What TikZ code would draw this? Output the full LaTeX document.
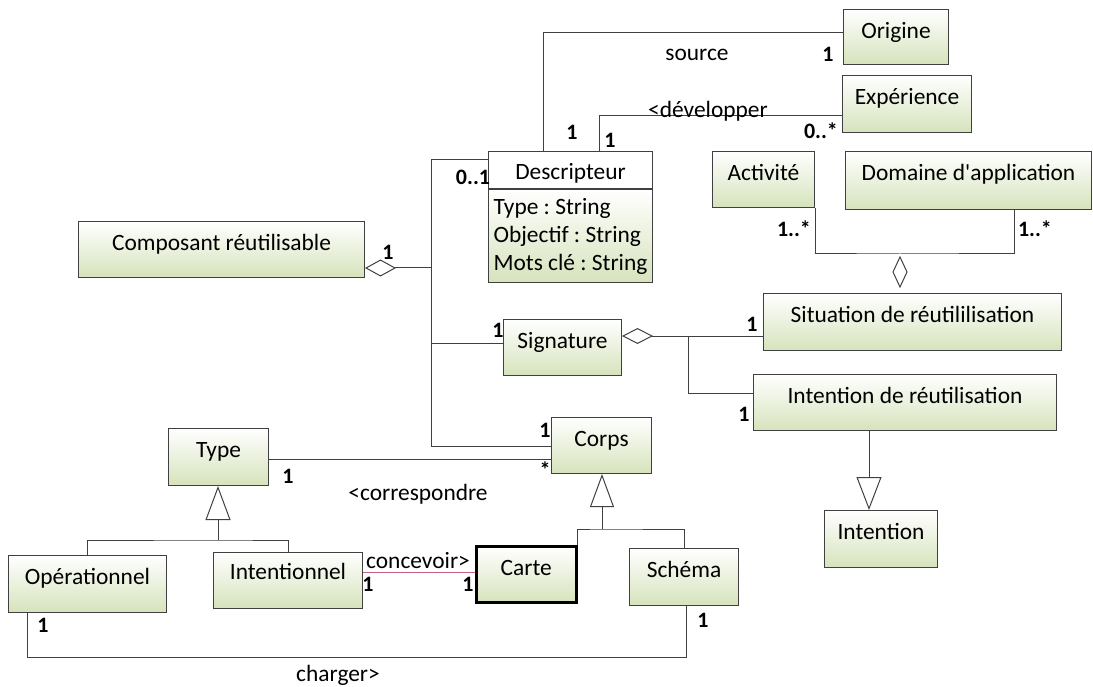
\documentclass[tikz,border=0pt]{standalone}
\usepackage{fontspec}
\setmainfont{Carlito}
\usetikzlibrary{arrows.meta}
\definecolor{bordc}{RGB}{64,64,64}
\definecolor{clsg}{RGB}{214,227,188}
\definecolor{pinkl}{RGB}{200,95,130}
\newcommand{\fs}{\fontsize{23.4}{28}\selectfont\frenchspacing}
\newcommand{\fm}{\fontsize{22}{24}\selectfont\bfseries}
\begin{document}
\begin{tikzpicture}[x=1pt,y=-1pt,
 cls/.style={draw=bordc, line width=1pt, top color=white, bottom color=clsg, inner xsep=0pt, inner ysep=0pt, text height=29pt, anchor=north west, font=\fs},
 line/.style={draw=bordc, line width=1pt},
 mult/.style={font=\fm, inner sep=0pt, text=black},
 lab/.style={font=\fs, inner sep=0pt, text=black},
 agg/.style={arrows={Diamond[open,length=31pt,width=17pt]-}},
 gen/.style={arrows={-Triangle[open,length=33pt,width=25pt]}},
]
\useasboundingbox (0,0) rectangle (1093,687);

% classes
\node[cls, minimum width=105pt, text depth=26pt] (orig) at (843,9) {Origine};
\node[cls, minimum width=129pt, text depth=28pt] (exp) at (842,75) {Expérience};
\node[cls, minimum width=102pt, text depth=27pt] (act) at (712,151) {Activité};
\node[cls, minimum width=246pt, text depth=29pt] (dom) at (845,151) {Domaine d\textquotesingle application};
\node[cls, minimum width=286pt, text depth=27pt] (comp) at (78,221) {Composant réutilisable};
\node[cls, minimum width=118pt, text depth=27pt] (sig) at (503,319) {Signature};
\node[cls, minimum width=298pt, text depth=28pt] (sit) at (763,293) {Situation de réutililisation};
\node[cls, minimum width=303pt, text depth=27pt] (intr) at (753,374) {Intention de réutilisation};
\node[cls, minimum width=113pt, text depth=28pt] (int) at (824,510) {Intention};
\node[cls, minimum width=100pt, text depth=27pt] (corps) at (551,417) {Corps};
\node[cls, minimum width=100pt, text depth=28pt] (type) at (168,428) {Type};
\node[cls, minimum width=158pt, text depth=28pt] (op) at (8,555) {Opérationnel};
\node[cls, minimum width=149pt, text depth=29pt, text height=27pt] (intl) at (213,552) {Intentionnel};
\node[cls, minimum width=100pt, text depth=27pt, draw=black, line width=2.5pt] (carte) at (475,545) {Carte};
\node[cls, minimum width=109pt, text depth=28pt] (sch) at (629,548) {Schéma};

% Descripteur
\node[draw=bordc, line width=1pt, fill=white, inner xsep=0pt, inner ysep=0pt, text height=28pt, text depth=9pt, minimum width=164pt, anchor=north west, font=\fs] (desc) at (488,151) {Descripteur};
\node[draw=bordc, line width=1pt, top color=white, bottom color=clsg, anchor=north west, minimum width=164pt, minimum height=93pt, align=left, inner xsep=0pt, inner ysep=0pt, font=\fs] (descattr) at (desc.south west) {Type : String\\Objectif : String\\Mots clé : String};

% junction coordinates
\coordinate (j1) at (431,268);
\coordinate (j2) at (688,336);
\coordinate (j3) at (900,254);
\coordinate (cj) at (602,529);
\coordinate (tj) at (218,540);
\coordinate (chg) at (686,657);

% associations to Descripteur
\draw[line] (desc.north -| 543,0) |- (orig.west |- 0,33);
\draw[line] (desc.north -| 599,0) |- (exp.west |- 0,116);

% Composant aggregation
\draw[line, agg] (comp.east |- 0,268) -- (j1);
\draw[line] (j1) |- (desc.west |- 0,160);
\draw[line] (j1) |- (sig.west |- 0,343);
\draw[line] (j1) |- (corps.west |- 0,446);

% Signature aggregation
\draw[line, arrows={Diamond[open,length=31pt,width=16pt]-}] (sig.east |- 0,336) -- (sit.west |- 0,336);
\draw[line] (j2) |- (intr.west |- 0,393);

% Situation aggregation of Activite / Domaine
\draw[line] (act.south -| 815,0) |- (j3) -| (dom.south -| 1014,0);
\draw[line, fill=white] (j3) ++(0,3) -- ++(7,15) -- ++(-7,15) -- ++(-7,-15) -- cycle;

% generalizations
\draw[line, gen] (intr.south -| 869,0) -- (int.north -| 869,0);
\draw[line, arrows={-Triangle[open,length=33pt,width=24pt]}] (cj) -- (corps.south -| cj);
\draw[line] (carte.north east) |- (cj) -| (sch.north -| 684,0);
\draw[line, arrows={-Triangle[open,length=34pt,width=25pt]}] (tj) -- (type.south -| tj);
\draw[line] (op.north) |- (tj) -| (intl.north);

% other associations
\draw[line] (type.east |- 0,459) -- (corps.west |- 0,459);
\draw[draw=pinkl, line width=1pt] (intl.east |- 0,572) -- (carte.west |- 0,572);
\draw[line] (op.south -| 27.5,0) |- (chg) -- (sch.south -| chg);

% labels
\node[lab] (lsource) at (697,55) {source};
\node[lab, anchor=base] (ldev) at (708,118) {<développer};
\node[lab] (lcorr) at (418,494) {<correspondre};
\node[lab] (lconc) at (418,561) {concevoir>};
\node[lab] (lchg) at (338,675) {charger>};

% multiplicities
\node[mult] (m1) at (828,54) {1};
\node[mult] (m2) at (572,132) {1};
\node[mult] (m3) at (610,140) {1};
\node[mult] (m4) at (821,131) {0..*};
\node[mult] (m5) at (473,177) {0..1};
\node[mult] (m6) at (794,229) {1..*};
\node[mult] (m7) at (1035,229) {1..*};
\node[mult] (m8) at (388,252) {1};
\node[mult] (m9) at (498,330) {1};
\node[mult] (m10) at (752,324) {1};
\node[mult] (m11) at (744,414) {1};
\node[mult] (m12) at (545,430) {1};
\node[mult] (m13) at (545,470) {*};
\node[mult] (m14) at (288,476) {1};
\node[mult] (m15) at (368,584) {1};
\node[mult] (m16) at (468,584) {1};
\node[mult] (m17) at (43,625) {1};
\node[mult] (m18) at (703,620) {1};
\end{tikzpicture}
\end{document}
